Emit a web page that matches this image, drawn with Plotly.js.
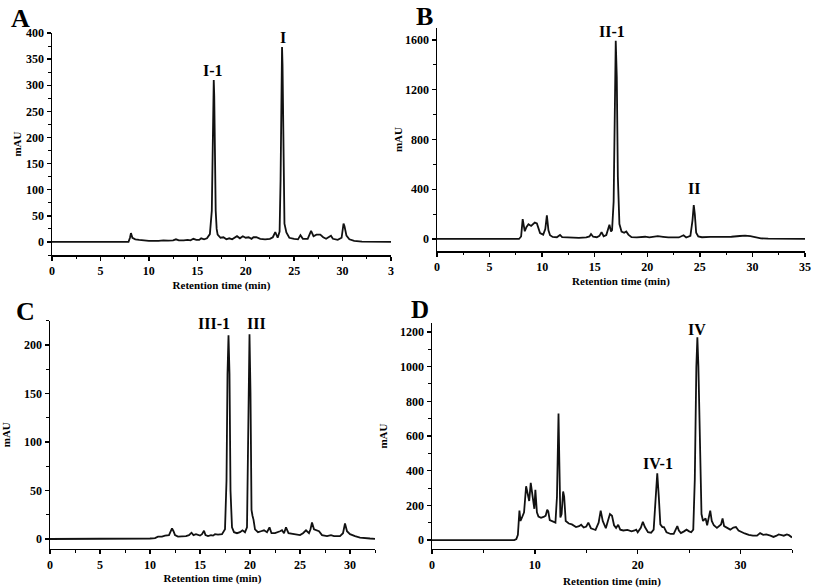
<!DOCTYPE html>
<html>
<head>
<meta charset="utf-8">
<script src="https://cdn.plot.ly/plotly-3.0.1.min.js"></script>
<style>html,body{margin:0;padding:0;background:#fff;}#chart{width:813px;height:588px;}</style>
</head>
<body>
<div id="chart"></div>
<script>
// ---------- Data ----------
const timeA = [0, 7.9, 8.05, 8.15, 8.3, 8.6, 9.0, 9.5, 10.0, 11.0, 11.5, 12.0, 12.5, 12.8, 13.1, 13.6, 14.0, 14.3, 14.6, 14.9, 15.2, 15.4, 15.7, 16.0, 16.3, 16.5, 16.6, 16.65, 16.7, 16.75, 16.8, 16.9, 17.0, 17.1, 17.4, 17.7, 18.0, 18.3, 18.6, 18.8, 19.1, 19.4, 19.7, 20.0, 20.3, 20.6, 20.8, 21.1, 21.5, 22.0, 22.5, 22.8, 23.05, 23.3, 23.5, 23.6, 23.7, 23.75, 23.8, 23.9, 24.0, 24.2, 24.5, 25.0, 25.4, 25.65, 25.9, 26.4, 26.75, 27.0, 27.3, 27.7, 28.0, 28.3, 28.5, 28.8, 29.0, 29.5, 29.9, 30.1, 30.2, 30.4, 30.7, 31.2, 32.0, 35.0];
const mauA  = [0.3, 0.3, 8, 17, 8, 5, 4, 3, 2, 2, 3, 2.5, 3, 5, 3, 3, 4, 3, 6, 4, 4, 7, 5, 7, 15, 60, 200, 280, 310, 280, 180, 60, 25, 14, 8, 9, 5, 7, 5, 8, 11, 7, 11, 8, 9, 6, 9, 9, 6, 5, 6, 9, 19, 8, 20, 120, 350, 373, 340, 120, 35, 18, 8, 6, 5, 13, 6, 6, 21, 11, 14, 14, 9, 6, 8, 12, 6, 4, 8, 35, 30, 12, 5, 2, 0.5, 0];

const timeB = [0, 7.8, 8.0, 8.1, 8.15, 8.25, 8.35, 8.5, 8.7, 8.95, 9.15, 9.3, 9.5, 9.65, 9.8, 10.1, 10.3, 10.45, 10.6, 10.75, 11.0, 11.4, 11.7, 11.9, 12.2, 12.5, 12.8, 13.5, 14.2, 14.5, 14.65, 14.85, 15.2, 15.45, 15.65, 15.85, 16.1, 16.25, 16.4, 16.55, 16.65, 16.8, 16.9, 17.0, 17.1, 17.2, 17.35, 17.55, 17.8, 18.0, 18.2, 18.5, 19.0, 19.8, 20.2, 21.0, 21.5, 22.0, 23.0, 23.45, 23.7, 24.1, 24.3, 24.42, 24.52, 24.65, 24.85, 25.2, 26.0, 27.0, 28.0, 28.8, 29.3, 29.8, 30.3, 30.8, 31.5, 32.5, 35.0];
const mauB  = [0, 0, 20, 110, 160, 110, 62, 95, 118, 105, 118, 132, 125, 80, 48, 35, 80, 190, 70, 30, 16, 14, 32, 14, 12, 16, 10, 9, 12, 20, 40, 18, 14, 25, 55, 22, 32, 80, 115, 60, 70, 300, 900, 1595, 1300, 500, 120, 60, 50, 60, 35, 15, 12, 18, 13, 22, 17, 12, 12, 30, 12, 25, 150, 272, 200, 50, 20, 14, 17, 17, 18, 24, 27, 22, 12, 5, 2, 0, 0];

const timeC = [0, 8.0, 8.5, 10.0, 10.5, 10.8, 11.2, 11.5, 11.9, 12.05, 12.2, 12.35, 12.5, 12.8, 13.2, 13.6, 13.9, 14.15, 14.35, 14.6, 15.0, 15.2, 15.4, 15.55, 15.8, 16.1, 16.3, 16.5, 16.8, 17.2, 17.5, 17.65, 17.75, 17.85, 17.95, 18.05, 18.2, 18.4, 18.7, 19.0, 19.25, 19.5, 19.7, 19.85, 19.95, 20.05, 20.15, 20.25, 20.35, 20.5, 20.8, 21.1, 21.4, 21.7, 21.95, 22.15, 22.5, 23.0, 23.2, 23.4, 23.6, 23.85, 24.3, 25.0, 25.3, 25.6, 25.9, 26.05, 26.2, 26.4, 26.9, 27.2, 27.7, 28.1, 28.4, 29.0, 29.3, 29.5, 29.7, 30.0, 30.5, 31.0, 32.0, 32.5];
const mauC  = [0, 0, 0.5, 0.5, 1, 2.5, 2.5, 3.5, 4, 8, 11, 8, 4, 2.5, 2.5, 3, 4, 6.5, 4, 5, 3.5, 5, 8.5, 4, 3, 4, 3.5, 5, 4.5, 5, 10, 60, 170, 210, 170, 50, 12, 7, 6, 7, 9, 7, 12, 120, 211, 150, 30, 24, 20, 10, 7, 8, 9, 7, 12, 6, 6, 8, 9, 6, 12, 6, 5, 4, 6, 9, 6, 10, 17, 10, 8, 4, 3, 4, 3, 3, 6, 16, 8, 5, 3, 1.5, 0.5, 0.2];

const timeD = [0, 8.0, 8.2, 8.35, 8.5, 8.6, 8.75, 8.95, 9.15, 9.3, 9.45, 9.6, 9.75, 9.87, 9.95, 10.05, 10.2, 10.35, 10.6, 10.9, 11.05, 11.2, 11.3, 11.45, 11.8, 12.0, 12.15, 12.25, 12.3, 12.38, 12.48, 12.6, 12.75, 12.85, 13.0, 13.3, 13.6, 14.0, 14.3, 14.5, 14.75, 15.0, 15.2, 15.45, 15.9, 16.2, 16.4, 16.6, 16.9, 17.1, 17.3, 17.5, 17.7, 17.9, 18.1, 18.3, 18.6, 19.0, 19.4, 19.7, 19.85, 20.0, 20.3, 20.5, 20.7, 21.0, 21.3, 21.55, 21.75, 21.9, 22.05, 22.2, 22.4, 22.55, 22.8, 23.2, 23.5, 23.7, 23.85, 24.0, 24.2, 24.5, 24.75, 25.0, 25.2, 25.4, 25.55, 25.7, 25.8, 25.9, 26.05, 26.2, 26.35, 26.5, 26.6, 26.75, 26.95, 27.05, 27.2, 27.4, 27.7, 27.95, 28.1, 28.25, 28.4, 28.7, 29.0, 29.3, 29.55, 29.8, 30.1, 30.4, 30.8, 31.2, 31.6, 31.9, 32.2, 32.5, 32.9, 33.2, 33.5, 33.7, 34.0, 34.2, 34.5, 34.7, 35.0];
const mauD  = [0, 0, 5, 30, 170, 110, 130, 160, 310, 270, 225, 330, 270, 215, 180, 290, 160, 135, 128, 135, 140, 175, 165, 115, 105, 100, 250, 600, 730, 450, 130, 150, 280, 250, 110, 95, 90, 75, 80, 88, 72, 78, 100, 68, 58, 100, 170, 110, 68, 110, 150, 140, 85, 70, 88, 60, 55, 58, 50, 55, 60, 45, 70, 105, 75, 45, 42, 60, 280, 385, 250, 90, 75, 75, 45, 35, 35, 60, 80, 55, 40, 50, 60, 50, 45, 60, 350, 1000, 1170, 1000, 500, 150, 110, 120, 125, 85, 140, 170, 110, 85, 70, 80, 90, 125, 80, 70, 60, 72, 75, 55, 45, 38, 30, 25, 25, 40, 30, 32, 25, 18, 25, 32, 28, 25, 32, 28, 15];

// tick labels
const xTicksA = [0, 5, 10, 15, 20, 25, 30, 35];
const xTickTextA = ['0', '5', '10', '15', '20', '25', '30', '3'];
const peakLabels = ['I-1', 'I', 'II-1', 'II', 'III-1', 'III', 'IV-1', 'IV'];
const panelLetters = ['A', 'B', 'C', 'D'];
const xTitle = 'Retention time (min)';
const yTitle = 'mAU';

// ---------- Layout helpers ----------
const W = 813, H = 588;
const px = x => x / W;
const py = y => 1 - y / H;
const FONT = 'Liberation Serif, Times New Roman, serif';

function xAxis(domain, range, dtick, minorD, anchor, standoff, extra) {
  return Object.assign({
    domain: domain, range: range, anchor: anchor, dtick: dtick, tick0: 0,
    showline: true, linecolor: '#000', linewidth: 1.5, mirror: false,
    ticks: 'outside', ticklen: 4, tickwidth: 1.4, tickcolor: '#000',
    showgrid: false, zeroline: false,
    tickfont: {family: FONT, size: 12, weight: 'bold', color: '#000'},
    minor: {ticks: 'outside', ticklen: 2.5, tickwidth: 1, tickcolor: '#000', dtick: minorD, showgrid: false},
    title: {text: xTitle, standoff: standoff, font: {family: FONT, size: 11, weight: 'bold', color: '#000'}},
    fixedrange: true
  }, extra || {});
}
function yAxis(domain, range, dtick, minorD, anchor, standoff) {
  return {
    domain: domain, range: range, anchor: anchor, dtick: dtick, tick0: 0,
    showline: true, linecolor: '#000', linewidth: 1.5, mirror: false,
    ticks: 'outside', ticklen: 4, tickwidth: 1.4, tickcolor: '#000',
    showgrid: false, zeroline: false,
    tickfont: {family: FONT, size: 12, weight: 'bold', color: '#000'},
    minor: {ticks: 'outside', ticklen: 2.5, tickwidth: 1, tickcolor: '#000', dtick: minorD, showgrid: false},
    title: {text: yTitle, standoff: standoff, font: {family: FONT, size: 11, weight: 'bold', color: '#000'}},
    fixedrange: true
  };
}

const lineStyle = {color: '#111', width: 1.8};
const traces = [
  {x: timeA, y: mauA, xaxis: 'x', yaxis: 'y', type: 'scatter', mode: 'lines', line: lineStyle, hoverinfo: 'skip'},
  {x: timeB, y: mauB, xaxis: 'x2', yaxis: 'y2', type: 'scatter', mode: 'lines', line: lineStyle, hoverinfo: 'skip'},
  {x: timeC, y: mauC, xaxis: 'x3', yaxis: 'y3', type: 'scatter', mode: 'lines', line: lineStyle, hoverinfo: 'skip'},
  {x: timeD, y: mauD, xaxis: 'x4', yaxis: 'y4', type: 'scatter', mode: 'lines', line: lineStyle, hoverinfo: 'skip'}
];

function ann(text, x, y, size) {
  return {text: text, xref: 'paper', yref: 'paper', x: px(x), y: py(y), xanchor: 'center', yanchor: 'middle',
          showarrow: false, font: {family: FONT, size: size, weight: 'bold', color: '#000'}};
}
const peakPos = [[213, 71], [283, 38], [612, 32], [694, 189], [214, 323], [256, 323], [658, 463], [697, 329]];
const letterPos = [[20, 18], [424, 16], [25, 311], [420, 309]];
const annotations = [];
peakLabels.forEach((t, i) => annotations.push(ann(t, peakPos[i][0], peakPos[i][1], 16)));
panelLetters.forEach((t, i) => annotations.push(ann(t, letterPos[i][0], letterPos[i][1], i === 3 ? 25 : 26)));

const layout = {
  width: W, height: H, margin: {l: 0, r: 0, t: 0, b: 0},
  paper_bgcolor: '#fff', plot_bgcolor: 'rgba(0,0,0,0)', showlegend: false,
  xaxis:  xAxis([px(52), px(391)], [0, 35], 5, 2.5, 'y', 4, {tickmode: 'array', tickvals: xTicksA, ticktext: xTickTextA}),
  yaxis:  yAxis([py(255), py(33)], [-25, 400], 50, 25, 'x', 2),
  xaxis2: xAxis([px(437), px(805)], [0, 35], 5, 2.5, 'y2', 4),
  yaxis2: yAxis([py(251.4), py(27.6)], [-100, 1700], 400, 200, 'x2', 0),
  xaxis3: xAxis([px(50), px(375)], [0, 32.5], 5, 2.5, 'y3', 0),
  yaxis3: yAxis([py(548.7), py(320.75)], [-10, 225], 50, 25, 'x3', 13),
  xaxis4: xAxis([px(432), px(792)], [0, 35], 10, 5, 'y4', 8),
  yaxis4: yAxis([py(548.7), py(323.3)], [-50, 1250], 200, 100, 'x4', 10),
  annotations: annotations
};

Plotly.newPlot('chart', traces, layout, {staticPlot: true, displayModeBar: false});
</script>
</body>
</html>
